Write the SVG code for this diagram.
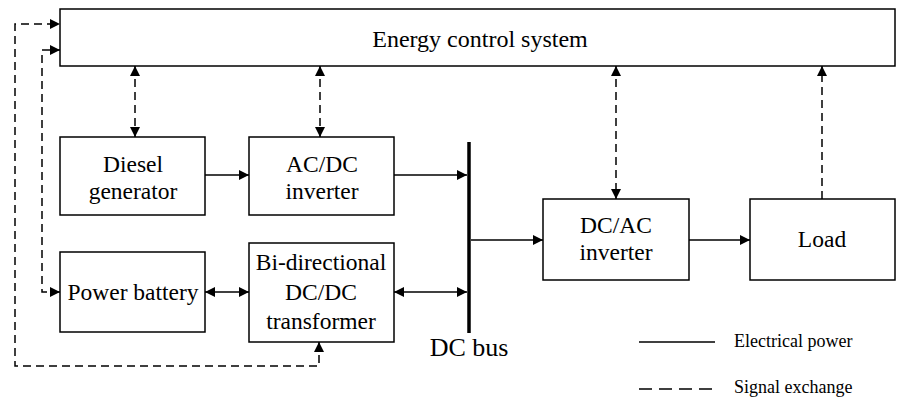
<svg xmlns="http://www.w3.org/2000/svg" width="898" height="397" viewBox="0 0 898 397">
<defs>
<marker id="ah" viewBox="0 0 10 10" refX="10" refY="5" markerWidth="10" markerHeight="10" markerUnits="userSpaceOnUse" orient="auto-start-reverse">
<path d="M0,0 L10,5 L0,10 z" fill="#000"/>
</marker>
<style>
.box{fill:#fff;stroke:#000;stroke-width:1.5}
.t{font-family:'Liberation Serif','DejaVu Serif',serif;font-size:23.5px;fill:#000;text-anchor:middle}
.lg{font-family:'Liberation Serif','DejaVu Serif',serif;font-size:18px;fill:#000}
.s{fill:none;stroke:#000;stroke-width:1.5}
.d{fill:none;stroke:#000;stroke-width:1.5;stroke-dasharray:8,5}
</style>
</defs>
<g id="ecs"><rect class="box" x="60" y="9" width="835" height="57"/><text class="t" x="480" y="47" style="font-size:24px">Energy control system</text></g>
<g id="diesel"><rect class="box" x="60" y="137" width="145" height="78"/><text class="t" x="133" y="172">Diesel</text><text class="t" x="133" y="199">generator</text></g>
<g id="acdc"><rect class="box" x="249" y="137" width="145" height="78"/><text class="t" x="322" y="172">AC/DC</text><text class="t" x="322" y="199">inverter</text></g>
<g id="battery"><rect class="box" x="60" y="252" width="145" height="80"/><text class="t" x="133" y="300">Power battery</text></g>
<g id="bidc"><rect class="box" x="249" y="243" width="145" height="99"/><text class="t" x="321" y="270">Bi-directional</text><text class="t" x="321" y="300">DC/DC</text><text class="t" x="321" y="329">transformer</text></g>
<g id="dcac"><rect class="box" x="543" y="199" width="146" height="81"/><text class="t" x="616" y="233">DC/AC</text><text class="t" x="616" y="260">inverter</text></g>
<g id="load"><rect class="box" x="750" y="199" width="145" height="81"/><text class="t" x="822" y="247">Load</text></g>
<g id="bus"><line x1="469" y1="142" x2="469" y2="333" stroke="#000" stroke-width="3.5"/><text class="t" x="469" y="356" style="font-size:26px">DC bus</text></g>
<g id="connectors">
<line class="s" x1="205" y1="175" x2="249" y2="175" marker-end="url(#ah)"/>
<line class="s" x1="394" y1="175" x2="467" y2="175" marker-end="url(#ah)"/>
<line class="s" x1="471" y1="240" x2="543" y2="240" marker-end="url(#ah)"/>
<line class="s" x1="689" y1="240" x2="750" y2="240" marker-end="url(#ah)"/>
<line class="s" x1="205" y1="292" x2="249" y2="292" marker-start="url(#ah)" marker-end="url(#ah)"/>
<line class="s" x1="394" y1="292" x2="467" y2="292" marker-start="url(#ah)" marker-end="url(#ah)"/>
<line class="d" x1="135" y1="66" x2="135" y2="137" marker-start="url(#ah)" marker-end="url(#ah)"/>
<line class="d" x1="320" y1="66" x2="320" y2="137" marker-start="url(#ah)" marker-end="url(#ah)"/>
<line class="d" x1="616" y1="66" x2="616" y2="199" marker-start="url(#ah)" marker-end="url(#ah)"/>
<line class="d" x1="822" y1="199" x2="822" y2="66" marker-end="url(#ah)"/>
<polyline class="d" points="319,342 319,366 15,366 15,24 60,24" marker-start="url(#ah)" marker-end="url(#ah)"/>
<polyline class="d" points="60,292 42,292 42,50 60,50" marker-start="url(#ah)" marker-end="url(#ah)"/>
</g>
<g id="legend">
<line class="s" x1="639" y1="342" x2="715" y2="342"/>
<text class="lg" x="734" y="347">Electrical power</text>
<line class="d" x1="639" y1="389" x2="715" y2="389" style="stroke-dasharray:13,7"/>
<text class="lg" x="734" y="393">Signal exchange</text>
</g>
</svg>
